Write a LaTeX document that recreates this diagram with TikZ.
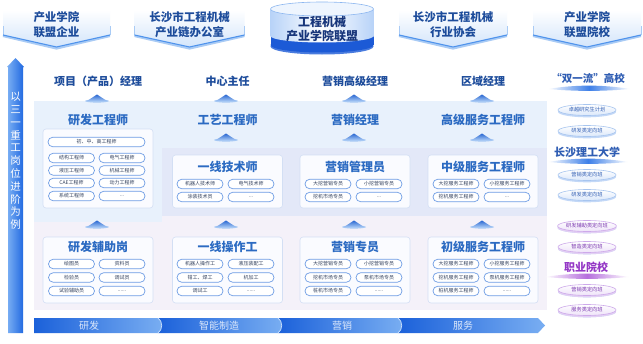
\documentclass[tikz,border=0pt]{standalone}
\usepackage{fontspec}
\newfontfamily\cjk{Noto Sans CJK SC}
\usetikzlibrary{shapes.geometric}
\definecolor{navy}{HTML}{1D4C9B}
\definecolor{tblue}{HTML}{2B6AC2}
\definecolor{pillb}{HTML}{6E9CE4}
\definecolor{pilltxt}{HTML}{34425E}
\definecolor{lightA}{HTML}{E8F1FC}
\definecolor{lavB}{HTML}{E3E8F8}
\definecolor{pinkC}{HTML}{F4F1F9}
\definecolor{boxfill}{HTML}{FAFBFF}
\definecolor{boxline}{HTML}{D3DFF4}
\definecolor{barD}{HTML}{1B61DA}
\definecolor{barL}{HTML}{79AEF2}
\definecolor{barT}{HTML}{DCE8FB}
\definecolor{arrD}{HTML}{1E67E0}
\definecolor{arrL}{HTML}{7CB0F4}
\definecolor{bannerL}{HTML}{D3E5FB}
\definecolor{bannerD}{HTML}{4F93EC}
\definecolor{bannerE}{HTML}{A9CBF5}
\definecolor{cylD}{HTML}{1C5AD6}
\definecolor{cylL}{HTML}{B8D3F8}
\definecolor{cylT}{HTML}{EEF5FE}
\definecolor{cylE}{HTML}{8DB7F0}
\definecolor{cylN}{HTML}{17357A}
\definecolor{chevD}{HTML}{2A68D2}
\definecolor{chevL}{HTML}{A6C8F4}
\definecolor{discB}{HTML}{2F5DB3}
\definecolor{discE}{HTML}{A7C5EF}
\definecolor{discS}{HTML}{C3D8F7}
\definecolor{purp}{HTML}{9437C6}
\definecolor{purpT}{HTML}{7B38B0}
\definecolor{purpE}{HTML}{CDA9EA}
\definecolor{purpS}{HTML}{E2CFF4}
\definecolor{swB}{HTML}{3D7FE8}
\definecolor{swP}{HTML}{B66FDD}

\tikzset{
  pill/.style={draw=pillb, line width=0.7pt, fill=white, rounded corners=4.7pt,
    minimum width=46pt, minimum height=9.5pt, inner sep=0pt,
    font=\cjk\fontsize{5}{5}\selectfont, text=pilltxt},
  widepill/.style={pill, minimum width=97pt},
  toptitle/.style={font=\cjk\bfseries\fontsize{11}{11}\selectfont, text=navy, inner sep=0pt},
  paneltitle/.style={font=\cjk\bfseries\fontsize{12}{12}\selectfont, text=tblue, inner sep=0pt},
  wbox/.style={draw=boxline, line width=0.6pt, fill=boxfill, rounded corners=3pt,
    minimum width=110pt, inner sep=0pt},
  bannertext/.style={font=\cjk\bfseries\fontsize{11.5}{15}\selectfont, text=navy,
    align=center, inner sep=0pt},
  cyltext/.style={font=\cjk\bfseries\fontsize{12}{14}\selectfont, text=cylN, inner sep=0pt},
  barlabel/.style={font=\cjk\fontsize{10}{10}\selectfont, text=barT, inner sep=0pt},
  vtext/.style={font=\cjk\fontsize{10.5}{12.8}\selectfont, text=white, align=center, inner sep=0pt},
  schooltitle/.style={font=\cjk\bfseries\fontsize{10.5}{10.5}\selectfont, text=discB, inner sep=0pt},
  disc/.style={ellipse, draw=discE, line width=0.6pt, top color=white, bottom color=discS!60!white,
    minimum width=58pt, minimum height=11pt, inner sep=0pt,
    font=\cjk\fontsize{5.2}{5.2}\selectfont, text=discB,
    preaction={fill=discS, transform canvas={yshift=-1.8pt}}},
  pdisc/.style={disc, draw=purpE, bottom color=purpS!60!white, text=purpT,
    preaction={fill=purpS, transform canvas={yshift=-1.8pt}}}
}

\newcommand\topbanner[2]{%
  \shade[top color=white, bottom color=bannerL] (#1-#2,10) -- (#1-#2,35) -- (#1,47) -- (#1+#2,35) -- (#1+#2,10) -- cycle;
  \draw[bannerE, line width=0.5pt] (#1-#2,26) -- (#1-#2,35);
  \draw[bannerE, line width=0.5pt] (#1+#2,26) -- (#1+#2,35);
  \draw[bannerE, line width=2.2pt] (#1-#2,36) -- (#1,48.5) -- (#1+#2,36);
  \draw[bannerD, line width=1.1pt] (#1-#2,35) -- (#1,47) -- (#1+#2,35);
}
\newcommand\upchev[2]{%
  \fill[chevL] (#1,#2) ellipse [x radius=12, y radius=1.6];
  \shade[top color=chevD, bottom color=chevL] (#1-10,#2) -- (#1,#2-6.5) -- (#1+10,#2) -- cycle;
}
\newcommand\swoosh[4]{%
  \shade[left color=white, right color=white, middle color=#4]
    (#1-#3,#2) .. controls (#1-#3/3,#2-4.5) and (#1+#3/3,#2-4.5) .. (#1+#3,#2)
    .. controls (#1+#3/3,#2+2.5) and (#1-#3/3,#2+2.5) .. cycle;
}

\begin{document}
\begin{tikzpicture}[x=1pt,y=-1pt]
\useasboundingbox (0,0) rectangle (643,343);
\fill[white] (0,0) rectangle (643,343);

% ---------- top banners ----------
\topbanner{56.5}{53.5}
\topbanner{189.5}{55}
\topbanner{453}{54}
\topbanner{587}{54}
\node[bannertext] (b1) at (56.5,24.5) {产业学院\\联盟企业};
\node[bannertext] (b2) at (189.5,24.5) {长沙市工程机械\\产业链办公室};
\node[bannertext] (b4) at (453,24.5) {长沙市工程机械\\行业协会};
\node[bannertext] (b5) at (587,24.5) {产业学院\\联盟院校};

% ---------- central cylinder ----------
\fill[cylD!80!white] (322,46.5) ellipse [x radius=51.5, y radius=8];
\fill[cylD] (270.5,36) rectangle (373.5,45);
\fill[cylD] (322,45) ellipse [x radius=51.5, y radius=7.5];
\shade[left color=cylL, right color=cylL, middle color=white] (270.5,9) rectangle (373.5,36);
\shade[left color=cylL, right color=cylL, middle color=white] (322,36) ellipse [x radius=51.5, y radius=6.5];
\filldraw[fill=cylT, draw=cylE, line width=0.6pt] (322,9) ellipse [x radius=51.5, y radius=7];
\node[cyltext] (c1) at (322,22) {工程机械};
\node[cyltext] (c2) at (322,36) {产业学院联盟};

% ---------- left arrow ----------
\shade[left color=arrL, right color=arrD]
  (8,67) -- (8,333) -- (23,333) -- (23,67) -- (24,67) -- (15.5,58) -- (7,67) -- cycle;
\node[vtext] (vt) at (15.5,161) {以\\三\\一\\重\\工\\岗\\位\\进\\阶\\为\\例};

% ---------- panels ----------
\fill[lightA] (34,101) rectangle (547,148);
\fill[pinkC] (34,216) rectangle (547,310);
\fill[lavB] (162,148) rectangle (547,216);
\fill[lightA] (34,148) rectangle (162,222);

% ---------- top titles ----------
\node[toptitle] (t1) at (98,81) {项目（产品）经理};
\node[toptitle] (t2) at (227.5,81) {中心主任};
\node[toptitle] (t3) at (355,81) {营销高级经理};
\node[toptitle] (t4) at (483,81) {区域经理};

\upchev{97}{101}
\upchev{226}{101}
\upchev{354}{101}
\upchev{482}{101}

% ---------- upper panel titles ----------
\node[paneltitle] (u1) at (98,120) {研发工程师};
\node[paneltitle] (u2) at (227.5,120) {工艺工程师};
\node[paneltitle] (u3) at (355,120) {营销经理};
\node[paneltitle] (u4) at (483,120) {高级服务工程师};

\upchev{226}{140}
\upchev{354}{140}
\upchev{482}{140}

% ---------- column 1 upper box ----------
\node[wbox, minimum height=79pt] (box1u) at (98,168.5) {};
\node[widepill] (p1w) at (96.5,142) {初、中、高工程师};
\node[pill] (p1a) at (71.5,158) {结构工程师};
\node[pill] (p1b) at (122,158) {电气工程师};
\node[pill] (p1c) at (71.5,170.5) {液压工程师};
\node[pill] (p1d) at (122,170.5) {机械工程师};
\node[pill] (p1e) at (71.5,183) {CAE工程师};
\node[pill] (p1f) at (122,183) {动力工程师};
\node[pill] (p1g) at (71.5,196) {系统工程师};
\node[pill] (p1h) at (122,196) {...};

% ---------- middle boxes ----------
\node[wbox, minimum height=53pt] (box2m) at (227.5,181.5) {};
\node[wbox, minimum height=53pt] (box3m) at (355,181.5) {};
\node[wbox, minimum height=53pt] (box4m) at (483,181.5) {};
\node[paneltitle] (m2) at (227.5,167) {一线技术师};
\node[paneltitle] (m3) at (355,167) {营销管理员};
\node[paneltitle] (m4) at (483,167) {中级服务工程师};
\node[pill] (p2a) at (200,184) {机器人技术师};
\node[pill] (p2b) at (251,184) {电气技术师};
\node[pill] (p2c) at (200,197) {涂装技术员};
\node[pill] (p2d) at (251,197) {...};
\node[pill] (p3a) at (328,184) {大挖营销专员};
\node[pill] (p3b) at (379,184) {小挖营销专员};
\node[pill] (p3c) at (328,197) {挖机市场专员};
\node[pill] (p3d) at (379,197) {...};
\node[pill] (p4a) at (456,184) {大挖服务工程师};
\node[pill] (p4b) at (507,184) {小挖服务工程师};
\node[pill] (p4c) at (456,197) {挖机服务工程师};
\node[pill] (p4d) at (507,197) {...};

\upchev{97}{227}
\upchev{226}{227}
\upchev{354}{227}
\upchev{482}{227}

% ---------- lower boxes ----------
\node[wbox, minimum height=66pt] (box1l) at (98,270) {};
\node[wbox, minimum height=66pt] (box2l) at (227.5,270) {};
\node[wbox, minimum height=66pt] (box3l) at (355,270) {};
\node[wbox, minimum height=66pt] (box4l) at (483,270) {};
\node[paneltitle] (l1) at (98,247) {研发辅助岗};
\node[paneltitle] (l2) at (227.5,247) {一线操作工};
\node[paneltitle] (l3) at (355,247) {营销专员};
\node[paneltitle] (l4) at (483,247) {初级服务工程师};

\node[pill] (q1a) at (71.5,264) {绘图员};
\node[pill] (q1b) at (122,264) {资料员};
\node[pill] (q1c) at (71.5,277.5) {检验员};
\node[pill] (q1d) at (122,277.5) {调试员};
\node[pill] (q1e) at (71.5,291) {试验辅助员};
\node[pill] (q1f) at (122,291) {......};

\node[pill] (q2a) at (200,264) {机器人操作工};
\node[pill] (q2b) at (251,264) {液压装配工};
\node[pill] (q2c) at (200,277.5) {钳工、焊工};
\node[pill] (q2d) at (251,277.5) {机加工};
\node[pill] (q2e) at (200,291) {调试工};
\node[pill] (q2f) at (251,291) {......};

\node[pill] (q3a) at (328,264) {大挖营销专员};
\node[pill] (q3b) at (379,264) {小挖营销专员};
\node[pill] (q3c) at (328,277.5) {挖机市场专员};
\node[pill] (q3d) at (379,277.5) {泵机市场专员};
\node[pill] (q3e) at (328,291) {桩机市场专员};
\node[pill] (q3f) at (379,291) {......};

\node[pill] (q4a) at (456,264) {大挖服务工程师};
\node[pill] (q4b) at (507,264) {小挖服务工程师};
\node[pill] (q4c) at (456,277.5) {挖机服务工程师};
\node[pill] (q4d) at (507,277.5) {泵机服务工程师};
\node[pill] (q4e) at (456,291) {桩机服务工程师};
\node[pill] (q4f) at (507,291) {......};

% ---------- bottom bar ----------
\shade[left color=barD, right color=barL] (398,318) -- (538,318) -- (545,325.5) -- (538,333) -- (398,333) -- cycle;
\shade[left color=barD, right color=barL] (278,318) -- (398,318) .. controls (403,321) and (403,330) .. (398,333) -- (278,333) -- cycle;
\shade[left color=barD, right color=barL] (158,318) -- (278,318) .. controls (283,321) and (283,330) .. (278,333) -- (158,333) -- cycle;
\shade[left color=barD, right color=barL] (34,318) -- (158,318) .. controls (163,321) and (163,330) .. (158,333) -- (34,333) -- cycle;
\draw[white!60!barL, line width=0.7pt] (158,318) .. controls (163,321) and (163,330) .. (158,333);
\draw[white!60!barL, line width=0.7pt] (278,318) .. controls (283,321) and (283,330) .. (278,333);
\draw[white!60!barL, line width=0.7pt] (398,318) .. controls (403,321) and (403,330) .. (398,333);
\node[barlabel] (s1) at (89,326) {研发};
\node[barlabel] (s2) at (219,326) {智能制造};
\node[barlabel] (s3) at (342,326) {营销};
\node[barlabel] (s4) at (463,326) {服务};

% ---------- right column ----------
\node[schooltitle] (r1) at (588,78) {“双一流”高校};
\swoosh{589}{89}{41}{swB}
\node[disc] (d1) at (587,110) {卓越研究生计划};
\node[disc] (d2) at (587,131) {研发类定向班};
\node[schooltitle, font=\cjk\bfseries\fontsize{11}{11}\selectfont] (r2) at (587,152) {长沙理工大学};
\swoosh{588}{162}{40}{swB}
\node[disc] (d3) at (587,175) {营销类定向班};
\node[disc] (d4) at (587,195) {研发类定向班};
\node[pdisc] (d5) at (587,226) {研发辅助类定向班};
\node[pdisc] (d6) at (587,247) {智造类定向班};
\node[schooltitle, text=purp, font=\cjk\bfseries\fontsize{11}{11}\selectfont] (r3) at (586,267) {职业院校};
\swoosh{587}{277}{42}{swP}
\node[pdisc] (d7) at (587,290) {营销类定向班};
\node[pdisc] (d8) at (587,310) {服务类定向班};
\end{tikzpicture}
\end{document}
